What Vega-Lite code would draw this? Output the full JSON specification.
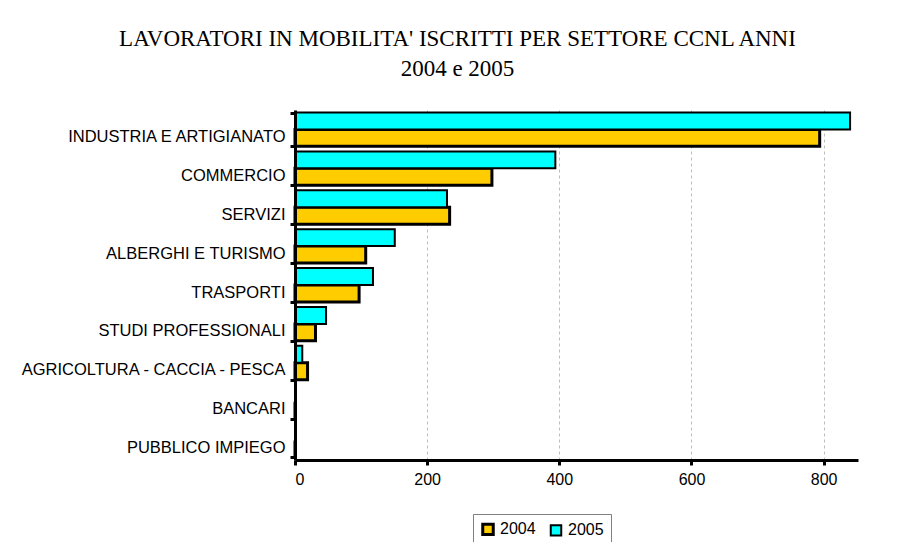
{
  "$schema": "https://vega.github.io/schema/vega-lite/v6.json",
  "width": 563,
  "height": 350,
  "autosize": {"type": "none"},
  "padding": {"left": 295, "top": 110, "right": 48, "bottom": 82},
  "background": "white",
  "title": {
    "text": ["LAVORATORI IN MOBILITA' ISCRITTI PER SETTORE CCNL ANNI", "2004 e 2005"],
    "font": "Liberation Serif",
    "fontSize": 23,
    "fontWeight": "normal",
    "color": "black",
    "lineHeight": 30,
    "anchor": "middle",
    "frame": "group",
    "dx": -119,
    "offset": 21
  },
  "data": {
    "values": [
      {"settore": "INDUSTRIA E ARTIGIANATO", "anno": "2004", "valore": 794},
      {"settore": "INDUSTRIA E ARTIGIANATO", "anno": "2005", "valore": 840},
      {"settore": "COMMERCIO", "anno": "2004", "valore": 298},
      {"settore": "COMMERCIO", "anno": "2005", "valore": 394},
      {"settore": "SERVIZI", "anno": "2004", "valore": 234},
      {"settore": "SERVIZI", "anno": "2005", "valore": 230},
      {"settore": "ALBERGHI E TURISMO", "anno": "2004", "valore": 107},
      {"settore": "ALBERGHI E TURISMO", "anno": "2005", "valore": 151},
      {"settore": "TRASPORTI", "anno": "2004", "valore": 97},
      {"settore": "TRASPORTI", "anno": "2005", "valore": 118},
      {"settore": "STUDI PROFESSIONALI", "anno": "2004", "valore": 31},
      {"settore": "STUDI PROFESSIONALI", "anno": "2005", "valore": 47},
      {"settore": "AGRICOLTURA - CACCIA - PESCA", "anno": "2004", "valore": 19},
      {"settore": "AGRICOLTURA - CACCIA - PESCA", "anno": "2005", "valore": 11},
      {"settore": "BANCARI", "anno": "2004", "valore": 0},
      {"settore": "BANCARI", "anno": "2005", "valore": 0},
      {"settore": "PUBBLICO IMPIEGO", "anno": "2004", "valore": 0},
      {"settore": "PUBBLICO IMPIEGO", "anno": "2005", "valore": 0}
    ]
  },
  "mark": {"type": "bar", "stroke": "black"},
  "encoding": {
    "y": {
      "field": "settore",
      "type": "nominal",
      "sort": ["INDUSTRIA E ARTIGIANATO", "COMMERCIO", "SERVIZI", "ALBERGHI E TURISMO", "TRASPORTI", "STUDI PROFESSIONALI", "AGRICOLTURA - CACCIA - PESCA", "BANCARI", "PUBBLICO IMPIEGO"],
      "scale": {"paddingInner": 0.13, "paddingOuter": 0.065},
      "axis": {
        "title": null,
        "domainColor": "black",
        "domainWidth": 3,
        "tickColor": "black",
        "tickWidth": 3,
        "tickSize": 5,
        "tickBand": "extent",
        "labelFont": "Liberation Sans",
        "labelFontSize": 16.5,
        "labelColor": "black",
        "labelPadding": 5,
        "labelOffset": 7,
        "labelLimit": 400,
        "zindex": 1
      }
    },
    "yOffset": {
      "field": "anno",
      "type": "nominal",
      "sort": ["2005", "2004"],
      "scale": {"paddingInner": 0}
    },
    "x": {
      "field": "valore",
      "type": "quantitative",
      "scale": {"domain": [0, 852], "nice": false},
      "axis": {
        "title": null,
        "values": [0, 200, 400, 600, 800],
        "domainColor": "black",
        "domainWidth": 3,
        "tickColor": "black",
        "tickWidth": 3,
        "tickSize": 5,
        "labelFont": "Liberation Sans",
        "labelFontSize": 16,
        "labelColor": "black",
        "labelPadding": 6,
        "grid": true,
        "gridColor": "#bdbdbd",
        "gridDash": [3, 3],
        "gridWidth": 1,
        "zindex": 0
      }
    },
    "fill": {
      "field": "anno",
      "type": "nominal",
      "scale": {"domain": ["2004", "2005"], "range": ["#FFCC00", "#00FFFF"]},
      "legend": {
        "orient": "none",
        "legendX": 178,
        "legendY": 404,
        "direction": "horizontal",
        "title": null,
        "strokeColor": "#808080",
        "fillColor": "white",
        "padding": 7,
        "symbolType": "square",
        "symbolSize": 110,
        "symbolStrokeColor": "black",
        "labelFont": "Liberation Sans",
        "labelFontSize": 16,
        "labelColor": "black",
        "labelOffset": 4,
        "columnPadding": 10
      }
    },
    "strokeWidth": {
      "field": "anno",
      "type": "nominal",
      "scale": {"domain": ["2004", "2005"], "range": [3, 2]}
    }
  },
  "config": {
    "view": {"stroke": null}
  }
}
